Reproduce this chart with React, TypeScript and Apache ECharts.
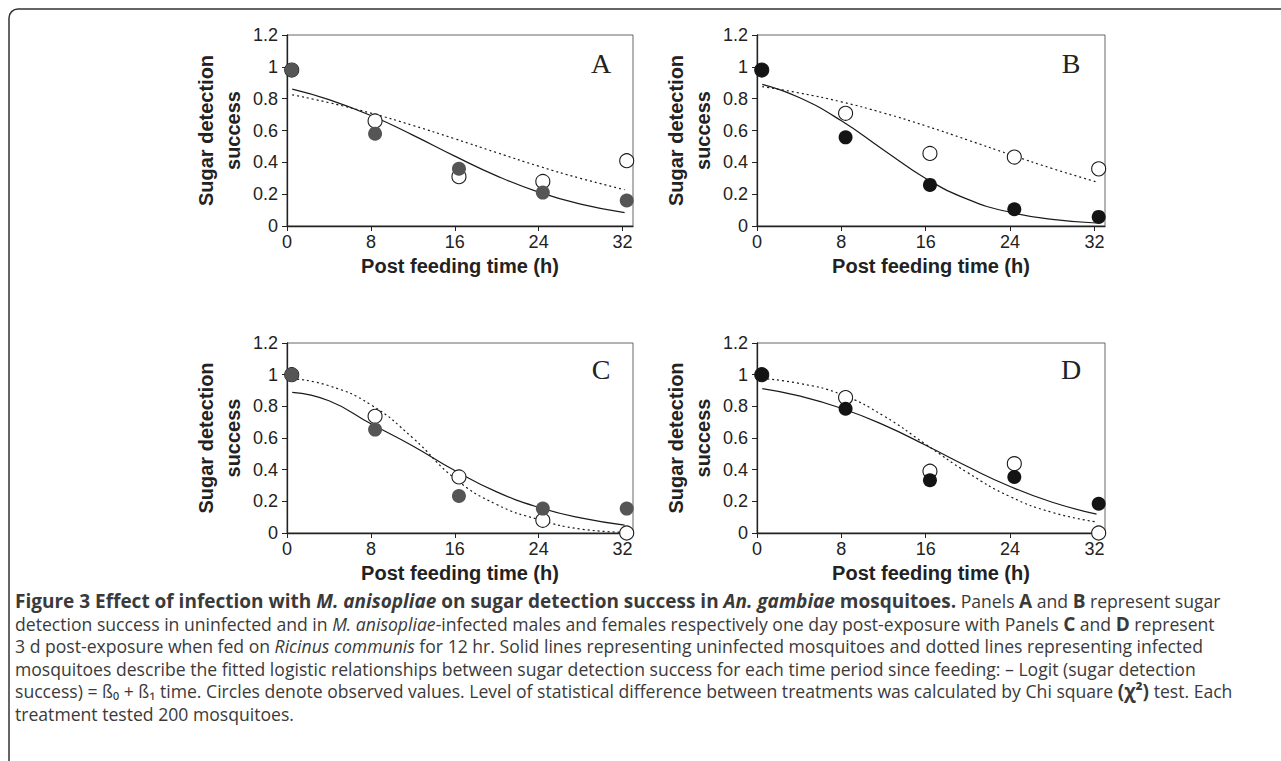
import React, { useEffect, useRef } from "react";
import * as echarts from "echarts";

// ---- data ----
const xTickValues = [0, 8, 16, 24, 32];
const obsTimes = [0.45, 8.4, 16.4, 24.4, 32.4];
const fitTimes = [0.5, 4, 8, 12, 16, 20, 24, 28, 32.2];

// Panel A (1 day post-exposure, first group)
const aUninfectedObs = [0.98, 0.58, 0.36, 0.21, 0.16];
const aInfectedObs = [0.98, 0.66, 0.31, 0.28, 0.41];
const aUninfectedFit = [0.86, 0.794, 0.694, 0.571, 0.439, 0.315, 0.213, 0.137, 0.084];
const aInfectedFit = [0.824, 0.775, 0.709, 0.632, 0.548, 0.461, 0.376, 0.299, 0.228];

// Panel B
const bUninfectedObs = [0.98, 0.557, 0.258, 0.105, 0.057];
const bInfectedObs = [0.98, 0.708, 0.456, 0.433, 0.359];
const bUninfectedFit = [0.89, 0.807, 0.661, 0.478, 0.299, 0.167, 0.086, 0.042, 0.019];
const bInfectedFit = [0.876, 0.836, 0.78, 0.71, 0.629, 0.54, 0.449, 0.361, 0.277];

// Panel C (3 d post-exposure)
const cUninfectedObs = [1.0, 0.653, 0.234, 0.154, 0.154];
const cInfectedObs = [1.0, 0.737, 0.354, 0.08, 0.0];
const cUninfectedFit = [0.888, 0.835, 0.69, 0.55, 0.395, 0.26, 0.162, 0.095, 0.05];
const cInfectedFit = [0.975, 0.93, 0.81, 0.6, 0.345, 0.18, 0.085, 0.025, 0.005];

// Panel D
const dUninfectedObs = [1.0, 0.785, 0.333, 0.354, 0.185];
const dInfectedObs = [1.0, 0.855, 0.39, 0.438, 0.0];
const dUninfectedFit = [0.912, 0.866, 0.788, 0.683, 0.554, 0.418, 0.294, 0.194, 0.119];
const dInfectedFit = [0.975, 0.945, 0.875, 0.74, 0.56, 0.38, 0.23, 0.13, 0.07];

const panelLabels = ["A", "B", "C", "D"];
const xAxisTitle = "Post feeding time (h)";
const yAxisTitle = "Sugar detection\nsuccess";

const captionLines: [string, string][][] = [
  [
    ["b", "Figure 3 Effect of infection with "],
    ["bi", "M. anisopliae"],
    ["b", " on sugar detection success in "],
    ["bi", "An. gambiae"],
    ["b", " mosquitoes."],
    ["n", " Panels "],
    ["b", "A"],
    ["n", " and "],
    ["b", "B"],
    ["n", " represent sugar"],
  ],
  [
    ["n", "detection success in uninfected and in "],
    ["i", "M. anisopliae"],
    ["n", "-infected males and females respectively one day post-exposure with Panels "],
    ["b", "C"],
    ["n", " and "],
    ["b", "D"],
    ["n", " represent"],
  ],
  [
    ["n", "3 d post-exposure when fed on "],
    ["i", "Ricinus communis"],
    ["n", " for 12 hr. Solid lines representing uninfected mosquitoes and dotted lines representing infected"],
  ],
  [
    ["n", "mosquitoes describe the fitted logistic relationships between sugar detection success for each time period since feeding: – Logit (sugar detection"],
  ],
  [
    ["n", "success) = ß₀ + ß₁ time. Circles denote observed values. Level of statistical difference between treatments was calculated by Chi square "],
    ["b", "(χ²)"],
    ["n", " test. Each"],
  ],
  [["n", "treatment tested 200 mosquitoes."]],
];

const panels = [
  { uo: aUninfectedObs, io: aInfectedObs, uf: aUninfectedFit, inf: aInfectedFit, dot: "#555555" },
  { uo: bUninfectedObs, io: bInfectedObs, uf: bUninfectedFit, inf: bInfectedFit, dot: "#141414" },
  { uo: cUninfectedObs, io: cInfectedObs, uf: cUninfectedFit, inf: cInfectedFit, dot: "#555555" },
  { uo: dUninfectedObs, io: dInfectedObs, uf: dUninfectedFit, inf: dInfectedFit, dot: "#141414" },
];

const gridRects = [
  { left: 287, top: 35, width: 346, height: 191 },
  { left: 757, top: 35, width: 348, height: 191 },
  { left: 287, top: 343, width: 346, height: 190 },
  { left: 757, top: 343, width: 348, height: 190 },
];
const letterPos = [
  [601, 63],
  [1071, 63],
  [601, 369],
  [1071, 369],
];

const FONT = "Liberation Sans";
const CAP_FONT = "Open Sans";
const CAP_SIZE = 17.6;
const CAP_BOLD_SIZE = 19;

export default function App() {
  const ref = useRef<HTMLDivElement>(null);

  useEffect(() => {
    if (!ref.current) return;
    const chart = echarts.init(ref.current, null, { renderer: "svg" });

    const grid = gridRects.map((g) => ({
      ...g,
      show: true,
      borderColor: "#666",
      borderWidth: 1,
      containLabel: false,
    }));

    const xAxis = gridRects.map((_, i) => ({
      type: "value",
      gridIndex: i,
      min: 0,
      max: 33,
      splitLine: { show: false },
      axisLine: { show: true, onZero: false, lineStyle: { color: "#222", width: 1.3 } },
      axisTick: { show: true, inside: false, length: 5, customValues: xTickValues, lineStyle: { color: "#222" } },
      axisLabel: { customValues: xTickValues, fontSize: 18, color: "#222", fontFamily: FONT, margin: 7 },
      name: xAxisTitle,
      nameLocation: "middle",
      nameGap: 30,
      nameTextStyle: { fontSize: 20, fontWeight: "bold", color: "#222", fontFamily: FONT },
    }));

    const yAxis = gridRects.map((_, i) => ({
      type: "value",
      gridIndex: i,
      min: 0,
      max: 1.2,
      interval: 0.2,
      splitLine: { show: false },
      axisLine: { show: true, onZero: false, lineStyle: { color: "#222", width: 1.3 } },
      axisTick: { show: true, inside: false, length: 5, lineStyle: { color: "#222" } },
      axisLabel: { fontSize: 18, color: "#222", fontFamily: FONT, margin: 9 },
      name: yAxisTitle,
      nameLocation: "middle",
      nameGap: 41,
      nameTextStyle: { fontSize: 20, fontWeight: "bold", color: "#222", fontFamily: FONT, lineHeight: 27 },
    }));

    const series: any[] = [];
    panels.forEach((p, i) => {
      series.push({
        type: "line",
        xAxisIndex: i,
        yAxisIndex: i,
        data: fitTimes.map((t, k) => [t, p.uf[k]]),
        showSymbol: false,
        smooth: true,
        lineStyle: { color: "#1a1a1a", width: 1.2 },
        z: 2,
      });
      series.push({
        type: "line",
        xAxisIndex: i,
        yAxisIndex: i,
        data: fitTimes.map((t, k) => [t, p.inf[k]]),
        showSymbol: false,
        smooth: true,
        lineStyle: { color: "#1a1a1a", width: 1.2, type: [2, 3] },
        z: 2,
      });
      series.push({
        type: "scatter",
        xAxisIndex: i,
        yAxisIndex: i,
        data: obsTimes.map((t, k) => [t, p.io[k]]),
        symbol: "circle",
        symbolSize: 14,
        itemStyle: { color: "#ffffff", borderColor: "#1a1a1a", borderWidth: 1.1, opacity: 1 },
        z: 3,
      });
      series.push({
        type: "scatter",
        xAxisIndex: i,
        yAxisIndex: i,
        data: obsTimes.map((t, k) => [t, p.uo[k]]),
        symbol: "circle",
        symbolSize: 14,
        itemStyle: { color: p.dot, opacity: 1 },
        z: 4,
      });
    });

    const rich = {
      n: { fontFamily: CAP_FONT, fontSize: CAP_SIZE, color: "#3a3a3a" },
      i: { fontFamily: CAP_FONT, fontSize: CAP_SIZE, fontStyle: "italic", color: "#3a3a3a" },
      b: { fontFamily: CAP_FONT, fontSize: CAP_BOLD_SIZE, fontWeight: "bold", color: "#222" },
      bi: { fontFamily: CAP_FONT, fontSize: CAP_BOLD_SIZE, fontWeight: "bold", fontStyle: "italic", color: "#222" },
    };

    const graphic: any[] = [
      {
        type: "rect",
        shape: { x: 9, y: 9, width: 1400, height: 900, r: [9, 0, 0, 0] },
        style: { fill: "none", stroke: "#333", lineWidth: 1.5 },
        silent: true,
      },
      ...panelLabels.map((l, i) => ({
        type: "text",
        x: letterPos[i][0],
        y: letterPos[i][1],
        style: {
          text: l,
          fontFamily: "Liberation Serif",
          fontSize: 28,
          fill: "#222",
          align: "center",
          verticalAlign: "middle",
        },
      })),
      ...captionLines.map((segs, k) => ({
        type: "text",
        x: 15,
        y: 601 + k * 22.6,
        style: {
          text: segs.map(([s, t]) => `{${s}|${t}}`).join(""),
          rich,
          fontFamily: CAP_FONT,
          fontSize: CAP_SIZE,
          fill: "#3a3a3a",
          verticalAlign: "middle",
        },
      })),
    ];

    chart.setOption({
      animation: false,
      backgroundColor: "#ffffff",
      grid,
      xAxis,
      yAxis,
      series,
      graphic,
    });

    return () => chart.dispose();
  }, []);

  return (
    <div
      ref={ref}
      style={{ position: "absolute", left: 0, top: 0, width: 1281, height: 761 }}
    />
  );
}
